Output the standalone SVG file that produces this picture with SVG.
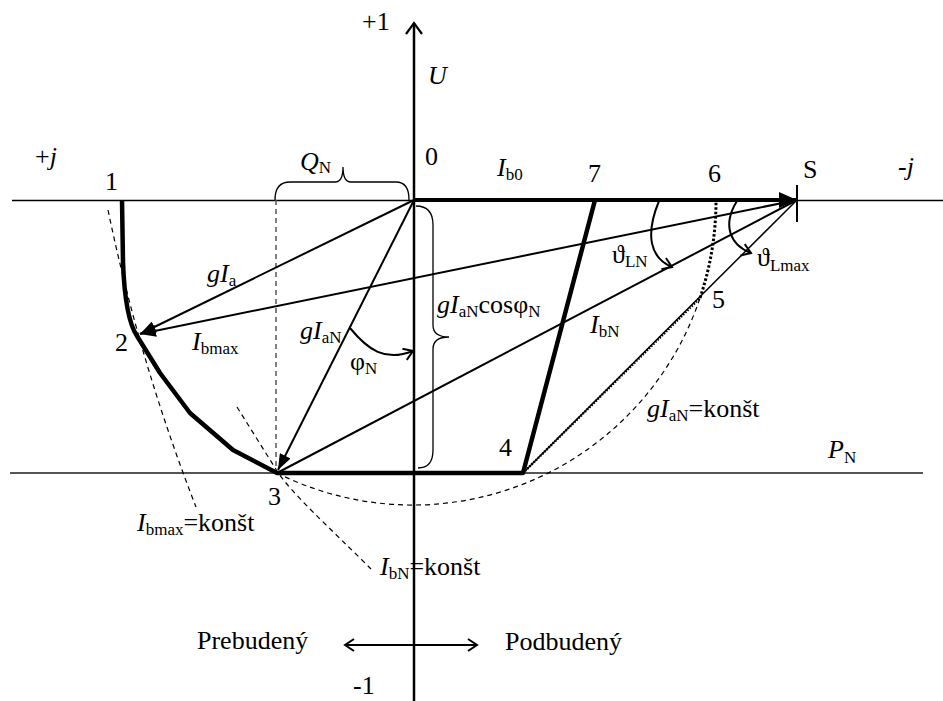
<svg xmlns="http://www.w3.org/2000/svg" width="943" height="701" viewBox="0 0 943 701">
<style>
text{font-family:"Liberation Serif","Times New Roman",serif;font-size:26px;fill:#000}
.i{font-style:italic}
.s{font-size:17px;font-style:normal}
.thin{fill:none;stroke:#000;stroke-width:2}
.dash{fill:none;stroke:#000;stroke-width:1.2;stroke-dasharray:5 4}
.dot{fill:none;stroke:#000;stroke-width:3;stroke-dasharray:2.5 2}
.brace{fill:none;stroke:#000;stroke-width:1.3}
</style>
<defs>
<marker id="arr" markerUnits="userSpaceOnUse" viewBox="0 0 16 12" markerWidth="16" markerHeight="12" refX="16" refY="6" orient="auto"><path d="M0,0 L16,6 L0,12 Z" fill="#000"/></marker>
<marker id="arrS" markerUnits="userSpaceOnUse" viewBox="0 0 18 16" markerWidth="18" markerHeight="16" refX="18" refY="8" orient="auto"><path d="M0,0 L18,8 L0,16 Z" fill="#000"/></marker>
<marker id="open" markerUnits="userSpaceOnUse" viewBox="0 0 14 18" markerWidth="14" markerHeight="18" refX="12" refY="9" orient="auto"><path d="M1,1 L12,9 L1,17" fill="none" stroke="#000" stroke-width="2.2"/></marker>
<marker id="openS" markerUnits="userSpaceOnUse" viewBox="0 0 12 14" markerWidth="12" markerHeight="14" refX="10" refY="7" orient="auto-start-reverse"><path d="M1,1 L10,7 L1,13" fill="none" stroke="#000" stroke-width="2"/></marker>
</defs>

<g id="axes">
<line x1="12" y1="200.5" x2="943" y2="200.5" stroke="#000" stroke-width="1.5"/>
<line x1="10" y1="473" x2="923" y2="473" stroke="#555" stroke-width="2"/>
<line x1="414" y1="701" x2="414" y2="23" stroke="#000" stroke-width="2.5" marker-end="url(#open)"/>
<line x1="797" y1="185" x2="797" y2="222" stroke="#000" stroke-width="2"/>
<line x1="276" y1="200" x2="276" y2="473" stroke="#555" stroke-width="1.5" stroke-dasharray="5 4"/>
</g>

<g id="loci">
<path class="dash" d="M108,210 A1856,1856 0 0 0 196,507"/>
<path class="dash" d="M237,407 L277,471 C292,494 330,528 371,569"/>
<path class="dash" d="M277,473 A303,303 0 0 0 700,298"/>
<path class="dot" d="M700,298 A303,303 0 0 0 716,200"/>
<path d="M122,200 L123,262 Q125,318 137,336 L160,373 L190,413 L233,450 L277,473 L523,473 L595,200" fill="none" stroke="#000" stroke-width="4.5" stroke-linejoin="round"/>
</g>

<g id="connectors">
<line x1="414" y1="200" x2="797" y2="200" stroke="#000" stroke-width="4" marker-end="url(#arrS)"/>
<line class="thin" x1="414" y1="200" x2="140" y2="334" marker-end="url(#arr)"/>
<line class="thin" x1="797" y1="200" x2="140" y2="334" marker-end="url(#arr)"/>
<line class="thin" x1="414" y1="200" x2="278" y2="470" marker-end="url(#arr)"/>
<line class="thin" x1="797" y1="200" x2="277" y2="473"/>
<line x1="797" y1="200" x2="523" y2="473" stroke="#000" stroke-width="1.5"/>
<line x1="523" y1="473" x2="700" y2="298" stroke="#000" stroke-width="2.5" stroke-dasharray="1.5 1.5"/>
<path class="thin" d="M659,201 C645,235 650,258 672,267" marker-end="url(#openS)"/>
<path class="thin" d="M737,201 C722,225 730,245 751,253" marker-end="url(#openS)"/>
<path class="thin" d="M350,328 C368,350 385,362 413,351" marker-end="url(#openS)"/>
<line x1="345" y1="645" x2="477" y2="645" stroke="#000" stroke-width="2" marker-start="url(#openS)" marker-end="url(#openS)"/>
<path class="brace" d="M275,200 Q275,182 290,182 L335,182 Q343,182 343,167 Q343,182 351,182 L396,182 Q409,182 409,200"/>
<path class="brace" d="M416,206 Q433,206 433,225 L433,325 Q433,337 449,337 Q433,337 433,349 L433,450 Q433,468 418,468"/>
</g>

<g id="labels">
<g id="axis-labels">
<text x="362" y="30">+1</text>
<text x="428" y="84" class="i">U</text>
<text x="35" y="165">+<tspan class="i">j</tspan></text>
<text x="898" y="175">-<tspan class="i">j</tspan></text>
<text x="828" y="458"><tspan class="i">P</tspan><tspan class="s" dy="5">N</tspan></text>
<text x="300" y="170"><tspan class="i">Q</tspan><tspan class="s" dy="3">N</tspan></text>
<text x="353" y="694">-1</text>
</g>
<g id="p0"><text x="425" y="165">0</text></g>
<g id="p1"><text x="105" y="190">1</text></g>
<g id="p2"><text x="115" y="351">2</text></g>
<g id="p3"><text x="268" y="505">3</text></g>
<g id="p4"><text x="499" y="456">4</text></g>
<g id="p5"><text x="712" y="308">5</text></g>
<g id="p6"><text x="708" y="182">6</text></g>
<g id="p7"><text x="588" y="182">7</text></g>
<g id="pS"><text x="803" y="178">S</text></g>
<g id="vector-labels">
<text x="497" y="176"><tspan class="i">I</tspan><tspan class="s" dy="4">b0</tspan></text>
<text x="207" y="282"><tspan class="i">gI</tspan><tspan class="s" dy="4">a</tspan></text>
<text x="192" y="350"><tspan class="i">I</tspan><tspan class="s" dy="4">bmax</tspan></text>
<text x="300" y="339"><tspan class="i">gI</tspan><tspan class="s" dy="4">aN</tspan></text>
<text x="350" y="370">φ<tspan class="s" dy="4">N</tspan></text>
<text x="437" y="313"><tspan class="i">gI</tspan><tspan class="s" dy="4">aN</tspan><tspan dy="-4">cosφ</tspan><tspan class="s" dy="4">N</tspan></text>
<text x="590" y="333"><tspan class="i">I</tspan><tspan class="s" dy="4">bN</tspan></text>
<text x="612" y="263">ϑ<tspan class="s" dy="4">LN</tspan></text>
<text x="757" y="266">ϑ<tspan class="s" dy="5">Lmax</tspan></text>
<text x="647" y="417"><tspan class="i">gI</tspan><tspan class="s" dy="4">aN</tspan><tspan dy="-4">=konšt</tspan></text>
<text x="137" y="531"><tspan class="i">I</tspan><tspan class="s" dy="4">bmax</tspan><tspan dy="-4">=konšt</tspan></text>
<text x="380" y="575"><tspan class="i">I</tspan><tspan class="s" dy="4">bN</tspan><tspan dy="-4">=konšt</tspan></text>
</g>
<g id="region-labels">
<text x="197" y="649">Prebudený</text>
<text x="505" y="650">Podbudený</text>
</g>
</g>
</svg>
